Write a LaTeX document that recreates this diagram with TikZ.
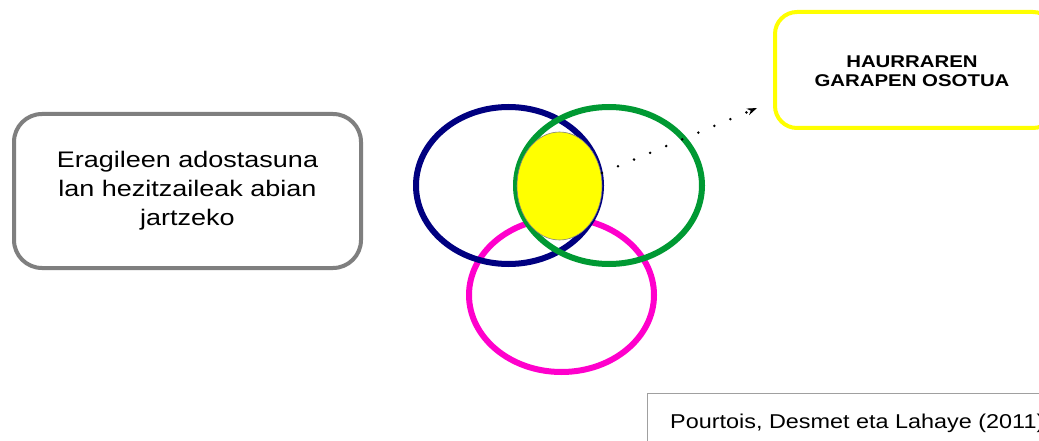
\documentclass[tikz,border=0pt]{standalone}
\usepackage{fontspec}
\setmainfont{Liberation Sans}
\usepackage{graphicx}
\usetikzlibrary{shapes.geometric,arrows.meta,calc}
\definecolor{navyc}{HTML}{000080}
\definecolor{greenc}{HTML}{009933}
\definecolor{magc}{HTML}{FF00CC}
\definecolor{yelc}{HTML}{FFFF00}
\definecolor{grayc}{HTML}{7F7F7F}
\definecolor{citec}{HTML}{A0A0A0}
\newcommand{\sxx}[1]{\scalebox{1.2}[1]{#1}}
\tikzset{
  ring/.style={ellipse, draw, line width=6pt, inner sep=0pt},
  leftbox/.style={draw=grayc, line width=4pt, rounded corners=28pt, inner sep=0pt, align=center,
    minimum width=347pt, minimum height=154pt, font=\fontsize{22.5}{29}\selectfont},
  goalbox/.style={draw=yelc, line width=4pt, rounded corners=22pt, inner sep=0pt},
  dotline/.style={line width=2.8pt, line cap=round, dash pattern=on 0pt off 17.4pt},
  tipline/.style={line width=1pt, -{Stealth[length=10pt,width=7pt]}},
}
\begin{document}
\begin{tikzpicture}[x=1pt,y=-1pt]
\useasboundingbox (0,0) rectangle (1039,441);
\clip (0,0) rectangle (1039,441);
\fill[white] (0,0) rectangle (1039,441);
% left box
\node[leftbox] (lb) at (187.5,191) {\sxx{Eragileen adostasuna}\\\sxx{lan hezitzaileak abian}\\\sxx{jartzeko}};
% goal box
\draw[goalbox] (775,12) rectangle (1055,128);
\node[align=center, font=\bfseries\fontsize{17}{19.5}\selectfont] (goal) at (912,71) {\sxx{HAURRAREN}\\\sxx{GARAPEN OSOTUA}};
% ellipses
\node[ring, draw=magc, minimum width=185pt, minimum height=154pt] (mag) at (561.5,295) {};
\node[ring, draw=navyc, minimum width=185pt, minimum height=157pt] (blue) at (508.5,185.5) {};
\node[ring, draw=greenc, minimum width=186pt, minimum height=157pt] (green) at (609,185.5) {};
\node[ellipse, fill=yelc, draw=gray, line width=0.6pt, inner sep=0pt, minimum width=85pt, minimum height=108pt] (core) at (559.5,186) {};
% dotted arrow
\coordinate (s) at (602,173);
\coordinate (t) at (757,108);
\draw[dotline] (s) -- (t);
\draw[tipline] ($(t)!3pt!(s)$) -- (t);
% citation
\draw[citec, line width=1pt] (647.5,460) -- (647.5,393.5) -- (1060,393.5);
\node[anchor=base west, inner sep=0pt, font=\fontsize{20}{24}\selectfont] (cite) at (670,428) {\scalebox{1.17}[1]{Pourtois, Desmet eta Lahaye (2011)}};
\end{tikzpicture}
\end{document}
